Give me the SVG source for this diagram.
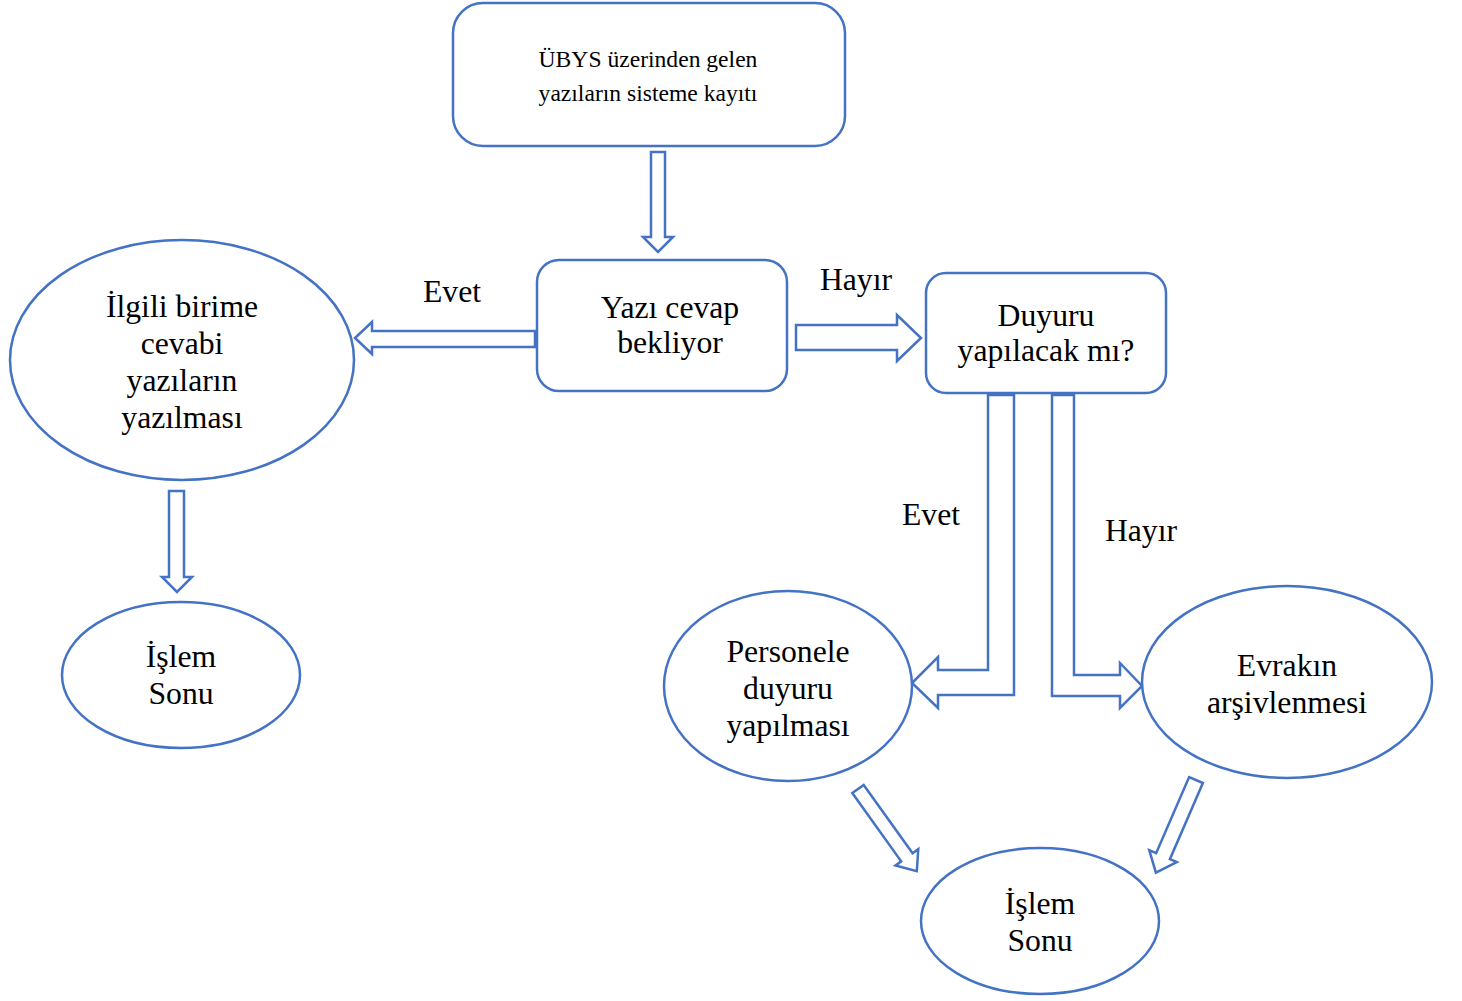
<svg xmlns="http://www.w3.org/2000/svg" width="1462" height="1001" viewBox="0 0 1462 1001">
<style>
.n{fill:#fff;stroke:#4472C4;stroke-width:2.5}
.a{fill:#fff;stroke:#4472C4;stroke-width:2.5;stroke-linejoin:miter}
text{font-family:"Liberation Serif","Times New Roman",serif;fill:#000;text-anchor:middle}
.t{font-size:31.7px}
.s{font-size:23.6px}
</style>
<rect width="1462" height="1001" fill="#fff"/>
<g id="connectors">
<polygon class="a" points="651,152 665,152 665,237 673,237 658,252 643,237 651,237"/>
<polygon class="a" points="535,331 372,331 372,322 355,338 372,354 372,347 535,347"/>
<polygon class="a" points="796,325 897,325 897,315 921,338 897,361 897,350 796,350"/>
<polygon class="a" points="169,491 184,491 184,577 192,577 177,592 162,577 169,577"/>
<polygon class="a" points="988,395 1014,395 1014,695 938,695 938,708 912,683 938,657 938,670 988,670"/>
<polygon class="a" points="1052,395 1074,395 1074,675 1120,675 1120,663 1142,686 1120,708 1120,696 1052,696"/>
<polygon class="a" transform="translate(858,789) rotate(54.4)" points="0,-7 84,-7 84,-14 101,0 84,14 84,7 0,7"/>
<polygon class="a" transform="translate(1196,780) rotate(113.4)" points="0,-7.5 83,-7.5 83,-15 101,0 83,15 83,7.5 0,7.5"/>
<text class="t" x="452" y="302">Evet</text>
<text class="t" x="856" y="290">Hayır</text>
<text class="t" x="931" y="525">Evet</text>
<text class="t" x="1141" y="541">Hayır</text>
</g>
<g id="n1">
<rect class="n" x="453" y="3" width="392" height="143" rx="30"/>
<text class="s" x="648" y="67">ÜBYS üzerinden gelen</text>
<text class="s" x="648" y="101">yazıların sisteme kayıtı</text>
</g>
<g id="n2">
<rect class="n" x="537" y="260" width="250" height="131" rx="22"/>
<text class="t" x="670" y="318">Yazı cevap</text>
<text class="t" x="670" y="353">bekliyor</text>
</g>
<g id="n3">
<rect class="n" x="926" y="273" width="240" height="120" rx="20"/>
<text class="t" x="1046" y="326">Duyuru</text>
<text class="t" x="1046" y="361">yapılacak mı?</text>
</g>
<g id="n4">
<ellipse class="n" cx="182" cy="360" rx="172" ry="120"/>
<text class="t" x="182" y="317">İlgili birime</text>
<text class="t" x="182" y="354">cevabi</text>
<text class="t" x="182" y="391">yazıların</text>
<text class="t" x="182" y="428">yazılması</text>
</g>
<g id="n5">
<ellipse class="n" cx="181" cy="675" rx="119" ry="73"/>
<text class="t" x="181" y="667">İşlem</text>
<text class="t" x="181" y="704">Sonu</text>
</g>
<g id="n6">
<ellipse class="n" cx="788" cy="686" rx="124" ry="95"/>
<text class="t" x="788" y="662">Personele</text>
<text class="t" x="788" y="699">duyuru</text>
<text class="t" x="788" y="736">yapılması</text>
</g>
<g id="n7">
<ellipse class="n" cx="1287" cy="682" rx="145" ry="96"/>
<text class="t" x="1287" y="676">Evrakın</text>
<text class="t" x="1287" y="713">arşivlenmesi</text>
</g>
<g id="n8">
<ellipse class="n" cx="1040" cy="921" rx="119" ry="73"/>
<text class="t" x="1040" y="914">İşlem</text>
<text class="t" x="1040" y="951">Sonu</text>
</g>
</svg>
